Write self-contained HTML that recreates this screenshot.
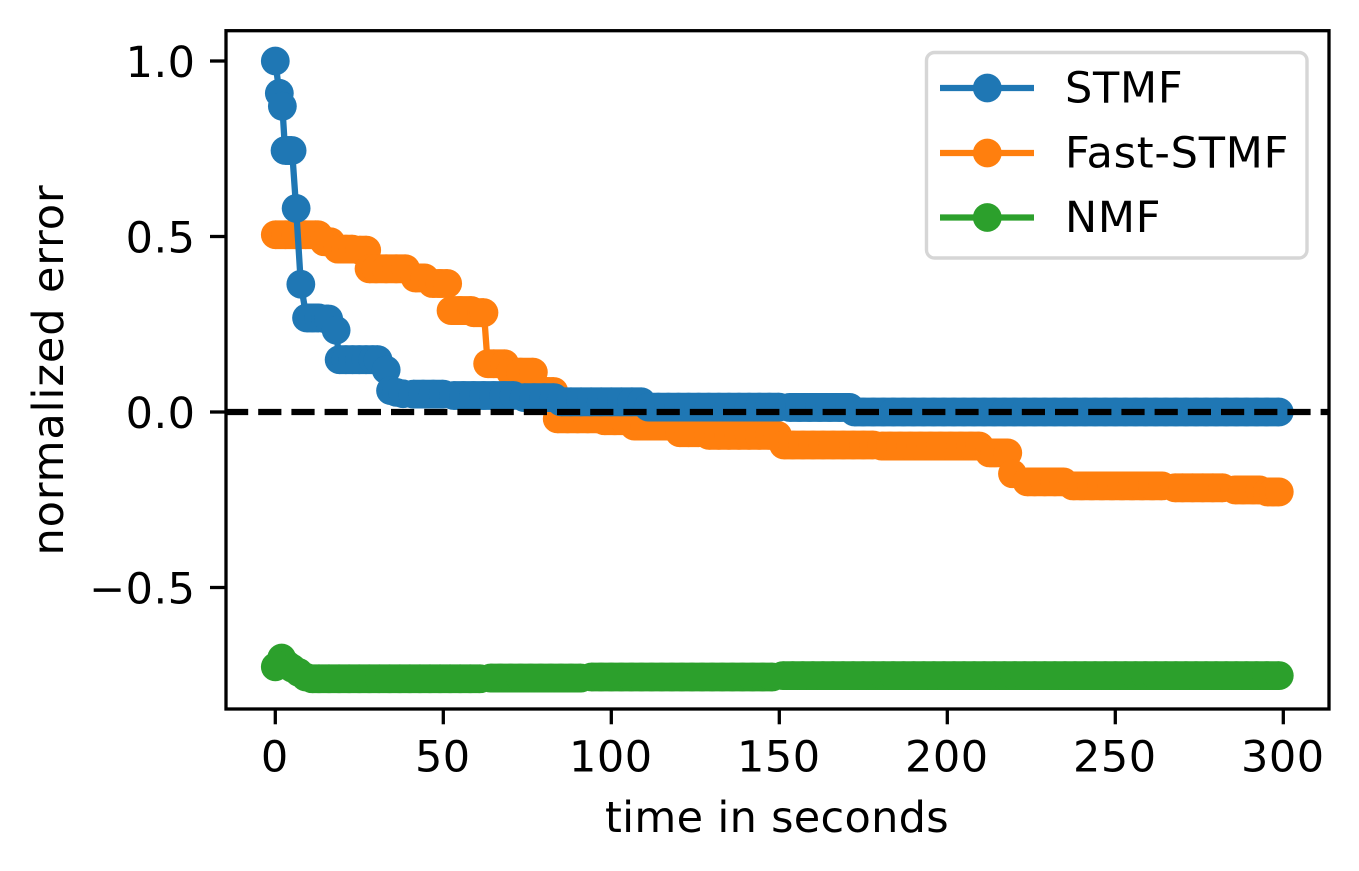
<!DOCTYPE html>
<html>
<head>
<meta charset="utf-8">
<title>Normalized error over time</title>
<style>
html,body{margin:0;padding:0;background:#fff;}
svg{display:block;}
text{font-family:"DejaVu Sans",sans-serif;fill:#000;}
</style>
</head>
<body>
<svg id="chart" xmlns="http://www.w3.org/2000/svg" width="1359" height="871" viewBox="0 0 1359 871">
  <rect x="0" y="0" width="1359" height="871" fill="#fff"/>
  <defs><clipPath id="plot-clip"><rect x="226" y="31" width="1103" height="678"/></clipPath></defs>
  <g id="series" clip-path="url(#plot-clip)"></g>
  <g id="ticks"></g>
  <rect x="226" y="30.7" width="1103" height="678.3" fill="none" stroke="#000" stroke-width="3.3"/>
  <text x="777" y="832" font-size="43" letter-spacing="0.3" text-anchor="middle">time in seconds</text>
  <text transform="translate(63 370) rotate(-90)" font-size="43" letter-spacing="0.9" text-anchor="middle">normalized error</text>
  <g>
    <rect x="926.5" y="52.5" width="380.5" height="205.5" rx="8" ry="8" fill="#fff" stroke="#d6d6d6" stroke-width="3.4"/>
    <g>
      <line x1="940" x2="1034" y1="88" y2="88" stroke="#1f77b4" stroke-width="6.3"/>
      <circle cx="987.3" cy="88" r="14.4" fill="#1f77b4"/>
      <text x="1065" y="102.5" font-size="43" letter-spacing="0.75">STMF</text>
    </g>
    <g>
      <line x1="940" x2="1034" y1="153" y2="153" stroke="#ff7f0e" stroke-width="6.3"/>
      <circle cx="987.3" cy="153" r="14.4" fill="#ff7f0e"/>
      <text x="1065" y="167.5" font-size="43" letter-spacing="0.75">Fast-STMF</text>
    </g>
    <g>
      <line x1="940" x2="1034" y1="217.5" y2="217.5" stroke="#2ca02c" stroke-width="6.3"/>
      <circle cx="987.3" cy="217.5" r="14.4" fill="#2ca02c"/>
      <text x="1065" y="232" font-size="43" letter-spacing="0.75">NMF</text>
    </g>
  </g>
</svg>
<script>
var xTicks = [0, 50, 100, 150, 200, 250, 300];
var yTicks = [1, 0.5, 0, -0.5];
var yTickLabels = ["1.0", "0.5", "0.0", "\u22120.5"];
var referenceValue = 0;

var stmfTimes = [
  0,1.2,2.1,2.9,4,5,6.2,7.6,9.3,
  11,13,15,15.9,18.1,19,21,23,25,27,29,30.6,
  33,34.3,36,38,41,44,47,50,
  53,56,59,62,65,68,71,
  74,77,80,83,
  85,88,91,94,97,100,103,106,109,
  111,114,117,120,123,126,129,132,135,138,141,144,147,150,
  153,156,159,162,165,168,171,
  172.3,175,178,181,184,187,190,193,196,199,
  202,205,208,211,214,217,220,223,226,229,232,
  235,238,241,244,247,250,253,256,259,262,265,
  268,271,274,277,280,283,286,289,292,295,298.8
];
var stmfValues = [
  1,.908,.871,.745,.745,.745,.58,.364,.268,
  .268,.268,.265,.265,.233,.149,.149,.149,.149,.149,.149,.149,
  .12,.061,.056,.052,.051,.051,.051,.051,
  .047,.047,.047,.047,.047,.047,.047,
  .041,.041,.041,.041,
  .029,.029,.029,.029,.029,.029,.029,.029,.029,
  .014,.014,.014,.014,.014,.014,.014,.014,.014,.014,.014,.014,.014,.014,
  .013,.013,.013,.013,.013,.013,.013,
  0,0,0,0,0,0,0,0,0,0,
  0,0,0,0,0,0,0,0,0,0,0,
  0,0,0,0,0,0,0,0,0,0,0,
  0,0,0,0,0,0,0,0,0,0,0
];

var fastTimes = [
  0,3,6,9,12,12.8,
  14.5,16.5,
  18.6,21,23,25,27.2,
  27.9,30,33,36,38.8,
  41.6,44.5,
  46.7,49,51.3,
  52.3,55,58.4,
  59,61.5,62.1,
  63.2,65,68.3,
  70,73,76.8,
  78,81,82.9,
  83.9,87,90,93,96,
  97.9,101,104,
  106.8,110,113,116,119,
  120.3,123,126,
  129,132,135,138,141,144,147,149.5,
  151.3,154,157,160,163,166,169,172,175,178,
  180.4,183,186,189,192,195,198,201,204,207,209.6,
  212.5,214,218,
  219.4,
  223.7,226,229,232,234.6,
  237.3,240,243,246,249,252,255,258,261,264,
  267.7,270,273,276,279,282,
  285.6,288,291,293,
  295.2,297,298.8
];
var fastValues = [
  .505,.505,.505,.505,.505,.505,
  .485,.485,
  .464,.464,.464,.461,.461,
  .408,.408,.408,.408,.408,
  .382,.382,
  .366,.366,.366,
  .289,.289,.289,
  .283,.283,.283,
  .1375,.1375,.1375,
  .1135,.1135,.1135,
  .0585,.0585,.0585,
  -.0195,-.0195,-.0195,-.0195,-.0195,
  -.025,-.025,-.025,
  -.04,-.04,-.04,-.04,-.04,
  -.059,-.059,-.059,
  -.0665,-.0665,-.0665,-.0665,-.0665,-.0665,-.0665,-.0665,
  -.094,-.094,-.094,-.094,-.094,-.094,-.094,-.094,-.094,-.094,
  -.097,-.097,-.097,-.097,-.097,-.097,-.097,-.097,-.097,-.097,-.097,
  -.1165,-.1165,-.1165,
  -.176,
  -.199,-.199,-.199,-.199,-.199,
  -.2105,-.2105,-.2105,-.2105,-.2105,-.2105,-.2105,-.2105,-.2105,-.2105,
  -.216,-.216,-.216,-.216,-.216,-.216,
  -.222,-.222,-.222,-.222,
  -.2277,-.2277,-.2277
];

var nmfTimes = [
  0,1.9,3.5,5,7,9,10.9,
  13,16,19,22,25,28,31,34,37,40,43,46,49,52,55,58,61,
  64,67,70,73,76,79,82,85,88,91,
  94,97,100,103,106,109,112,115,118,121,124,127,130,133,136,139,142,145,148,
  151,154,157,160,163,166,169,172,175,178,
  181,184,187,190,193,196,199,202,205,208,
  211,214,217,220,223,226,229,232,235,238,
  241,244,247,250,253,256,259,262,265,268,
  271,274,277,280,283,286,289,292,295,298.8
];
var nmfValues = [
  -.726,-.701,-.72,-.73,-.742,-.755,-.76,
  -.76,-.76,-.76,-.76,-.76,-.76,-.76,-.76,-.76,-.76,-.76,-.76,-.76,-.76,-.76,-.76,-.76,
  -.758,-.758,-.758,-.758,-.758,-.758,-.758,-.758,-.758,-.758,
  -.755,-.755,-.755,-.755,-.755,-.755,-.755,-.755,-.755,-.755,-.755,-.755,-.755,-.755,-.755,-.755,-.755,-.755,-.755,
  -.751,-.751,-.751,-.751,-.751,-.751,-.751,-.751,-.751,-.751,
  -.751,-.751,-.751,-.751,-.751,-.751,-.751,-.751,-.751,-.751,
  -.751,-.751,-.751,-.751,-.751,-.751,-.751,-.751,-.751,-.751,
  -.751,-.751,-.751,-.751,-.751,-.751,-.751,-.751,-.751,-.751,
  -.751,-.751,-.751,-.751,-.751,-.751,-.751,-.751,-.751,-.751
];

var NS = 'http://www.w3.org/2000/svg';
function xScale(t) { return 275.3 + t * 3.36; }
function yScale(v) { return 412 - v * 351; }

function drawSeries(parent, times, values, color, name) {
  var g = document.createElementNS(NS, 'g');
  
  
  var pts = [];
  var bandPath = '';
  for (var i = 0; i < times.length; i++) {
    pts.push(xScale(times[i]).toFixed(2) + ',' + yScale(values[i]).toFixed(2));
    if (i > 0 && values[i] === values[i - 1]) {
      bandPath += 'M' + xScale(times[i - 1]).toFixed(2) + ' ' + yScale(values[i]).toFixed(2) +
                  'L' + xScale(times[i]).toFixed(2) + ' ' + yScale(values[i]).toFixed(2);
    }
  }
  var line = document.createElementNS(NS, 'polyline');
  
  
  line.setAttribute('points', pts.join(' '));
  line.setAttribute('fill', 'none');
  line.setAttribute('stroke', color);
  line.setAttribute('stroke-width', '6.3');
  g.appendChild(line);
  var band = document.createElementNS(NS, 'path');
  
  
  band.setAttribute('d', bandPath);
  band.setAttribute('fill', 'none');
  band.setAttribute('stroke', color);
  band.setAttribute('stroke-width', '28.8');
  g.appendChild(band);
  for (var j = 0; j < times.length; j++) {
    var c = document.createElementNS(NS, 'circle');
    
    
    c.setAttribute('cx', xScale(times[j]).toFixed(2));
    c.setAttribute('cy', yScale(values[j]).toFixed(2));
    c.setAttribute('r', '14.4');
    c.setAttribute('fill', color);
    g.appendChild(c);
  }
  parent.appendChild(g);
}

var seriesLayer = document.getElementById('series');
drawSeries(seriesLayer, fastTimes, fastValues, '#ff7f0e', 'fast-stmf');
drawSeries(seriesLayer, nmfTimes, nmfValues, '#2ca02c', 'nmf');
drawSeries(seriesLayer, stmfTimes, stmfValues, '#1f77b4', 'stmf');

var refLine = document.createElementNS(NS, 'line');


refLine.setAttribute('x1', '225');
refLine.setAttribute('x2', '1330');
refLine.setAttribute('y1', yScale(referenceValue).toFixed(2));
refLine.setAttribute('y2', yScale(referenceValue).toFixed(2));
refLine.setAttribute('stroke', '#000');
refLine.setAttribute('stroke-width', '6.3');
refLine.setAttribute('stroke-dasharray', '23.2 10');
seriesLayer.appendChild(refLine);

var tickLayer = document.getElementById('ticks');
xTicks.forEach(function (t) {
  var x = xScale(t);
  var tick = document.createElementNS(NS, 'line');
  
  
  tick.setAttribute('x1', x);
  tick.setAttribute('x2', x);
  tick.setAttribute('y1', '709');
  tick.setAttribute('y2', '724.3');
  tick.setAttribute('stroke', '#000');
  tick.setAttribute('stroke-width', '3.3');
  tickLayer.appendChild(tick);
  var label = document.createElementNS(NS, 'text');
  
  
  label.setAttribute('x', x - 0.5);
  label.setAttribute('y', '771.5');
  label.setAttribute('font-size', '43');
  label.setAttribute('letter-spacing', '0.5');
  label.setAttribute('text-anchor', 'middle');
  label.textContent = String(t);
  tickLayer.appendChild(label);
});
yTicks.forEach(function (v, i) {
  var y = yScale(v);
  var tick = document.createElementNS(NS, 'line');
  
  
  tick.setAttribute('x1', '210');
  tick.setAttribute('x2', '226');
  tick.setAttribute('y1', y);
  tick.setAttribute('y2', y);
  tick.setAttribute('stroke', '#000');
  tick.setAttribute('stroke-width', '3.3');
  tickLayer.appendChild(tick);
  var label = document.createElementNS(NS, 'text');
  
  
  label.setAttribute('x', '195.5');
  label.setAttribute('y', y + 16);
  label.setAttribute('font-size', '43');
  label.setAttribute('letter-spacing', '0.5');
  label.setAttribute('text-anchor', 'end');
  label.textContent = yTickLabels[i];
  tickLayer.appendChild(label);
});
</script>
</body>
</html>
